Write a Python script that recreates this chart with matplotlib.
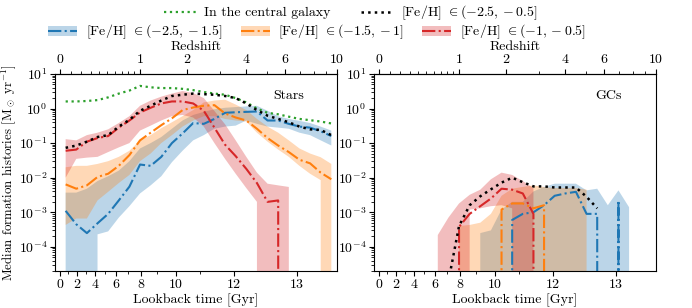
import numpy as np
import matplotlib.pyplot as plt
from matplotlib.patches import Patch
from matplotlib.lines import Line2D

plt.rcParams['font.family'] = 'serif'
plt.rcParams['font.serif'] = ['cmr10']
plt.rcParams['mathtext.fontset'] = 'cm'
plt.rcParams['axes.formatter.use_mathtext'] = True
plt.rcParams['font.size'] = 10

nan = np.nan

# bin centres in log10(1+z)
log1pz = [0.02, 0.06, 0.10, 0.14, 0.18, 0.22, 0.26, 0.30, 0.34, 0.38, 0.42, 0.46, 0.50,
          0.54, 0.58, 0.62, 0.66, 0.70, 0.74, 0.78, 0.82, 0.86, 0.90, 0.94, 0.98, 1.02]

# ---- stars [Msun/yr] ----
stars_central = [1.6, 1.6, 1.65, 1.75, 2.1, 2.7, 3.3, 4.5, 4.1, 3.9, 3.9, 3.7, 3.4,
                 3.0, 2.7, 2.5, 2.0, 1.5, 1.0, 0.75, 0.68, 0.58, 0.5, 0.46, 0.42, 0.37]
stars_all = [0.073, 0.085, 0.11, 0.15, 0.17, 0.3, 0.47, 0.86, 1.2, 1.7, 2.3, 2.5, 2.7,
             2.6, 2.5, 2.3, 2.0, 1.4, 0.9, 0.62, 0.5, 0.4, 0.3, 0.25, 0.24, 0.17]

stars_rich = [0.06, 0.065, 0.11, 0.14, 0.16, 0.28, 0.45, 0.77, 1.05, 1.4, 1.6, 1.6, 1.4,
              0.86, 0.28, 0.09, 0.042, 0.018, 0.007, 0.002, 0.0022, 0, 0, 0, 0, 0]
stars_rich_lo = [0.01, 0.035, 0.038, 0.04, 0.055, 0.075, 0.1, 0.23, 0.32, 0.45, 0.6, 0.65, 0.55,
                 0.3, 0.1, 0.035, 0.013, 0.005, 0.002, 0, 0, 0, 0, 0, 0, 0]
stars_rich_hi = [0.13, 0.12, 0.17, 0.2, 0.25, 0.38, 0.6, 1.2, 1.7, 2.2, 2.7, 3.2, 2.8,
                 2.0, 0.85, 0.35, 0.12, 0.04, 0.014, 0.0067, 0.006, 0.0054, 0, 0, 0, 0]

stars_mid = [0.0064, 0.0048, 0.006, 0.0105, 0.013, 0.022, 0.045, 0.12, 0.2, 0.33, 0.52, 0.9, 1.07,
             1.2, 1.25, 0.72, 0.55, 0.45, 0.26, 0.14, 0.085, 0.055, 0.033, 0.026, 0.014, 0.009]
stars_mid_lo = [0.00043, 0.00066, 0.00066, 0.0022, 0.0039, 0.007, 0.012, 0.03, 0.05, 0.1, 0.17, 0.3, 0.45,
                0.6, 0.6, 0.5, 0.45, 0.42, 0.2, 0.11, 0.065, 0.04, 0.022, 0.013, 0.0085, 0]
stars_mid_hi = [0.02, 0.022, 0.022, 0.025, 0.03, 0.04, 0.06, 0.12, 0.17, 0.27, 0.4, 0.6, 0.9,
                1.5, 1.7, 1.8, 1.3, 0.9, 0.5, 0.3, 0.2, 0.12, 0.07, 0.05, 0.039, 0.025]

stars_poor = [0.0011, 0.00045, 0.00025, 0.00048, 0.0009, 0.0022, 0.0055, 0.024, 0.022, 0.04, 0.1, 0.19, 0.38,
              0.36, 0.5, 0.75, 0.78, 0.8, 0.82, 0.45, 0.45, 0.36, 0.3, 0.28, 0.22, 0.16]
stars_poor_lo = [0, 0, 0, 0.00023, 0.00028, 0.0007, 0.0015, 0.0035, 0.006, 0.011, 0.028, 0.06, 0.12,
                 0.17, 0.26, 0.3, 0.32, 0.45, 0.36, 0.3, 0.28, 0.26, 0.2, 0.17, 0.12, 0.085]
stars_poor_hi = [0.0037, 0.0037, 0.0048, 0.008, 0.011, 0.016, 0.03, 0.07, 0.1, 0.15, 0.26, 0.45, 0.65,
                 0.8, 0.95, 1.05, 1.1, 1.15, 1.2, 0.86, 0.6, 0.5, 0.44, 0.38, 0.3, 0.23]

# ---- globular clusters [Msun/yr] ----
gcs_all = [nan, nan, nan, nan, nan, nan, 1e-5, 0.0004, 0.0016, 0.0029, 0.0046, 0.0072, 0.01,
           0.0074, 0.0056, 0.0056, 0.0052, 0.0052, 0.0052, 0.0028, 0.0013, nan, nan, nan, nan, nan]

gcs_rich = [nan, nan, nan, nan, nan, 0, 0, 0.00038, 0.0009, 0.0015, 0.0025, 0.0048, 0.0045,
            0.0035, 0.0009, 0, nan, nan, nan, nan, nan, nan, nan, nan, nan, nan]
gcs_rich_lo = [nan, nan, nan, nan, nan, 0, 0, 0, 0.0012, 0.0013, 0.0015, 0.0016, 0.0013,
               0, 0, nan, nan, nan, nan, nan, nan, nan, nan, nan, nan, nan]
gcs_rich_hi = [nan, nan, nan, nan, nan, 0.00022, 0.0007, 0.0018, 0.0032, 0.0045, 0.009, 0.014, 0.012,
               0.008, 0.005, nan, nan, nan, nan, nan, nan, nan, nan, nan, nan, nan]

gcs_mid = [nan, nan, nan, nan, nan, nan, nan, nan, nan, nan, 0, 0.0012, 0.0018,
           0.0018, 0.0013, 0.0016, 0, nan, nan, nan, nan, nan, nan, nan, nan, nan]
gcs_mid_lo = [nan, nan, nan, nan, nan, nan, 0, 0, 0, 0, 0, 0, 0,
              0, 0, 0, 0, 0, 0, 0, nan, nan, nan, nan, nan, nan]
gcs_mid_hi = [nan, nan, nan, nan, nan, nan, 0, 0.0004, 0.00043, 0.0005, 0.0009, 0.003, 0.0048,
              0.0054, 0.006, 0.0054, 0.005, 0.005, 0.005, 0.0045, nan, nan, nan, nan, nan, nan]

gcs_poor = [nan, nan, nan, nan, nan, nan, nan, nan, nan, nan, nan, 0, 0.0006,
            0.0009, 0.001, 0.0016, 0.003, 0.0035, 0.0039, 0.0009, 0.0009, 0, 0.0022, 0, nan, nan]
gcs_poor_lo = [nan, nan, nan, nan, nan, nan, nan, nan, 0, 0, 0, 0, 0,
               0, 0, 0, 0, 0, 0, 0, 0, 0, 0, 0, 0, nan]
gcs_poor_hi = [nan, nan, nan, nan, nan, nan, nan, nan, 0, 0.00025, 0.0003, 0.0012, 0.002,
               0.002, 0.004, 0.0054, 0.0067, 0.0067, 0.0067, 0.0043, 0.0048, 0.0016, 0.0043, 0.0014, 0, nan]

lookback_ticks = [0, 2, 4, 6, 8, 10, 12, 13]
lookback_minor = [1, 3, 5, 7, 9, 11]
z_ticks = [0, 1, 2, 4, 6, 10]
z_minor = [0.1, 0.2, 0.3, 0.4, 0.5, 0.6, 0.7, 0.8, 0.9, 3, 5, 7, 8, 9]

labels_feh = [r'[Fe/H] $\in (-2.5, -1.5]$', r'[Fe/H] $\in (-1.5, -1]$', r'[Fe/H] $\in (-1, -0.5]$']
label_all = r'[Fe/H] $\in (-2.5, -0.5]$'

# flat LCDM lookback time
H0, Om = 67.7, 0.31
zz = np.linspace(0, 30, 30001)
f = 1.0 / ((1 + zz) * np.sqrt(Om * (1 + zz)**3 + 1 - Om))
t_lb = 977.8 / H0 * np.concatenate([[0], np.cumsum(0.5 * (f[1:] + f[:-1]) * np.diff(zz))])


def u_of_t(t):
    return np.log10(1 + np.interp(t, t_lb, zz))


def u_of_z(z):
    return np.log10(1 + np.asarray(z, dtype=float))


x = np.array(log1pz)
c_poor, c_mid, c_rich = 'tab:blue', 'tab:orange', 'tab:red'

fig = plt.figure(figsize=(6.92, 3.08), dpi=100)
ax1 = fig.add_axes([0.0795, 0.12, 0.4075, 0.64])
ax2 = fig.add_axes([0.5405, 0.12, 0.4075, 0.64])


def band(ax, med, lo, hi, c):
    ax.fill_between(x, lo, hi, color=c, alpha=0.3, lw=0)
    ax.plot(x, med, color=c, ls='-.', lw=1.5)


for ax in (ax1, ax2):
    ax.set_yscale('log')
ax1.plot(x, stars_central, color='tab:green', ls=':', lw=1.6)
band(ax1, stars_poor, stars_poor_lo, stars_poor_hi, c_poor)
band(ax1, stars_mid, stars_mid_lo, stars_mid_hi, c_mid)
band(ax1, stars_rich, stars_rich_lo, stars_rich_hi, c_rich)
ax1.plot(x, stars_all, color='k', ls=':', lw=1.8)

band(ax2, gcs_poor, gcs_poor_lo, gcs_poor_hi, c_poor)
band(ax2, gcs_mid, gcs_mid_lo, gcs_mid_hi, c_mid)
band(ax2, gcs_rich, gcs_rich_lo, gcs_rich_hi, c_rich)
ax2.plot(x, gcs_all, color='k', ls=':', lw=1.8)

for ax, name in ((ax1, 'Stars'), (ax2, 'GCs')):
    ax.set_ylim(2e-5, 10)
    ax.set_xlim(-0.02, np.log10(11))
    ax.set_xticks(u_of_t(lookback_ticks))
    ax.set_xticklabels([str(t) for t in lookback_ticks])
    ax.set_xticks(u_of_t(lookback_minor), minor=True)
    ax.set_xlabel('Lookback time [Gyr]', labelpad=2)
    ax.text(0.83, 0.89, name, transform=ax.transAxes, ha='center', va='center')
    top = ax.secondary_xaxis('top')
    top.set_xticks(u_of_z(z_ticks))
    top.set_xticklabels([str(z) for z in z_ticks])
    top.set_xticks(u_of_z(z_minor), minor=True)
    top.set_xlabel('Redshift', labelpad=3)
    ax.tick_params(axis='both', which='major', pad=2)
    top.tick_params(axis='x', which='major', pad=2)

ax1.set_ylabel(r'Median formation histories [M$_\odot$ yr$^{-1}$]', fontsize=9.3, labelpad=0.5)

h_central = Line2D([], [], color='tab:green', ls=':', lw=1.6)
h_all = Line2D([], [], color='k', ls=':', lw=1.8)
fig.legend([h_central, h_all], ['In the central galaxy', label_all], loc='center',
           bbox_to_anchor=(0.507, 0.958), ncol=2, frameon=False, handlelength=2.3,
           handletextpad=0.6, columnspacing=2.2, borderaxespad=0)
h_feh = [(Patch(facecolor=c, alpha=0.3, lw=0), Line2D([], [], color=c, ls='-.', lw=1.5))
         for c in (c_poor, c_mid, c_rich)]
fig.legend(h_feh, labels_feh, loc='center', bbox_to_anchor=(0.458, 0.896), ncol=3,
           frameon=False, handlelength=2.1, handletextpad=0.6, columnspacing=1.3, borderaxespad=0)

fig.savefig('out.png', dpi=100)
plt.close()
